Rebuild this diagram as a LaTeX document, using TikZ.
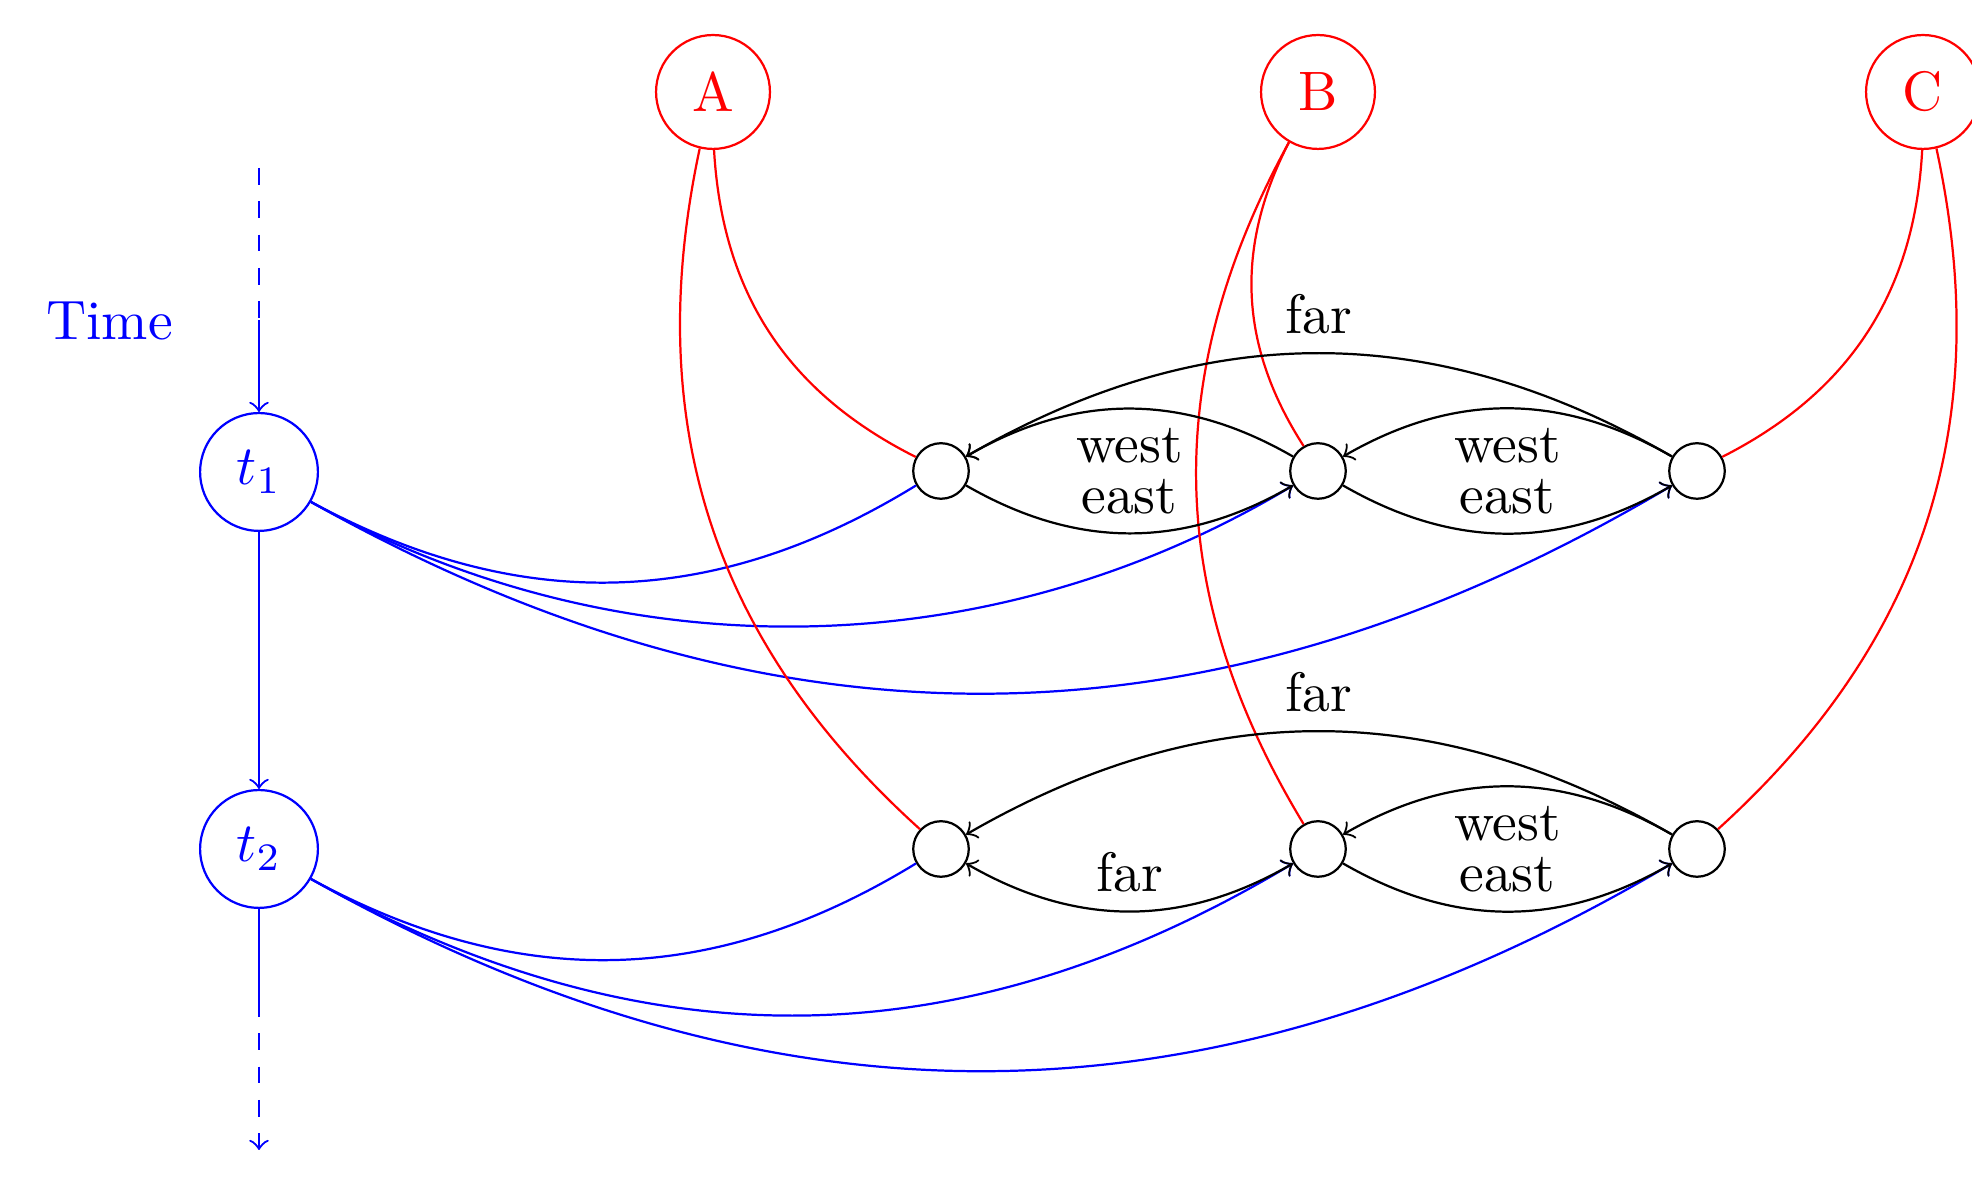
\documentclass[tikz,border=0pt]{standalone}
\begin{document}
\begin{tikzpicture}[x=0.18pt,y=0.18pt,
  timenode/.style={circle,draw=blue,text=blue,minimum size=21.2pt,inner sep=0pt},
  agent/.style={circle,draw=red,text=red,minimum size=20.5pt,inner sep=0pt},
  place/.style={circle,draw,minimum size=10pt,inner sep=0pt},
  tick/.style={blue,->},
  visit/.style={blue},
  owns/.style={red},
  hop/.style={->}
]
\useasboundingbox (0,0) rectangle (1972,1204);

% time axis
\node[blue] (time) at (109.5,883) {Time};
\node[timenode] (t1) at (259,732) {$t_1$};
\node[timenode] (t2) at (259,355) {$t_2$};
\coordinate (past) at (259,1036);
\coordinate (pastend) at (259,884);
\coordinate (futstart) at (259,204);
\coordinate (future) at (259,54);

% agents
\node[agent] (A) at (713,1112) {A};
\node[agent] (B) at (1318,1112) {B};
\node[agent] (C) at (1923,1112) {C};

% places at each time step
\node[place] (n11) at (941,733) {};
\node[place] (n12) at (1318,733) {};
\node[place] (n13) at (1697,733) {};
\node[place] (n21) at (941,355) {};
\node[place] (n22) at (1318,355) {};
\node[place] (n23) at (1697,355) {};

% time flow
\draw[blue,dashed] (past) -- (pastend);
\draw[tick] (pastend) -- (t1);
\draw[tick] (t1) -- (t2);
\draw[blue] (t2) -- (futstart);
\draw[tick,dashed] (futstart) -- (future);

% time steps to places
\draw[visit] (t1) to[bend right] (n11);
\draw[visit,->] (t1) to[bend right,looseness=0.92] (n12);
\draw[visit,->] (t1) to[bend right] (n13);
\draw[visit] (t2) to[bend right] (n21);
\draw[visit,->] (t2) to[bend right] (n22);
\draw[visit,->] (t2) to[bend right] (n23);

% agents to places
\draw[owns] (A) to[bend right] (n11);
\draw[owns] (A) to[bend right] (n21);
\draw[owns] (B) to[bend right] (n12);
\draw[owns] (B) to[bend right] (n22);
\draw[owns] (C) to[bend left] (n13);
\draw[owns] (C) to[bend left] (n23);

% moves at t1
\draw[hop] (n12) to[bend right] node[below] {west} (n11);
\draw[hop] (n11) to[bend right] node[above] {east} (n12);
\draw[hop] (n13) to[bend right] node[below] {west} (n12);
\draw[hop] (n12) to[bend right] node[above] {east} (n13);
\draw[hop] (n13) to[bend right] node[above] {far} (n11);

% moves at t2
\draw[hop] (n23) to[bend right] node[above] {far} (n21);
\draw[<->] (n21) to[bend right] node[above] {far} (n22);
\draw[hop] (n23) to[bend right] node[below] {west} (n22);
\draw[hop] (n22) to[bend right] node[above] {east} (n23);
\end{tikzpicture}
\end{document}
